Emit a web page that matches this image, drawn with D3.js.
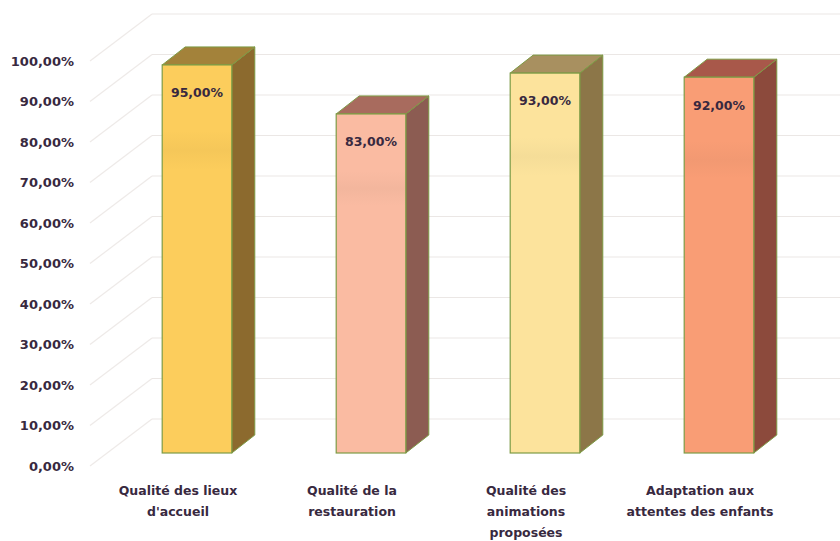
<!DOCTYPE html>
<html>
<head>
<meta charset="utf-8">
<script src="https://cdn.jsdelivr.net/npm/d3@7"></script>
<style>
  body { margin: 0; background: #fff; }
  text { font-family: "DejaVu Sans", sans-serif; font-weight: bold; fill: #38293f; }
</style>
</head>
<body>
<div id="main"></div>
<script>
const W = 840;
const H = 541;

// data
const categories = [
    ["Qualité des lieux", "d'accueil"],
    ["Qualité de la", "restauration"],
    ["Qualité des", "animations", "proposées"],
    ["Adaptation aux", "attentes des enfants"]
];
const values = [0.95, 0.83, 0.93, 0.92];
const ticks = [0, 0.1, 0.2, 0.3, 0.4, 0.5, 0.6, 0.7, 0.8, 0.9, 1.0];
const frontColors = ["#fccd5c", "#fabba2", "#fce39c", "#f99d75"];
const sideColors = ["#8c6a2e", "#8c5c52", "#8c7648", "#8c4a3c"];
const topColors = ["#a3823a", "#a86b5e", "#a89060", "#a8584a"];

const DX = 23, DY = -18; // bar depth

var ctx = {};

var fmt = function (v) {
    return d3.format(".2f")(v * 100).replace(".", ",") + "%";
};

var createViz = function () {
    var svg = d3.select("#main").append("svg")
        .attr("width", W)
        .attr("height", H);

    // three planes: front (axis labels), bars, back wall
    ctx.yFront = d3.scaleLinear().domain([0, 1]).range([466, 61]);
    ctx.yBar = d3.scaleLinear().domain([0, 1]).range([453, 44.5]);
    ctx.yBack = d3.scaleLinear().domain([0, 1]).range([419, 14]);
    ctx.x = d3.scaleBand()
        .domain(d3.range(categories.length))
        .range([110, 806])
        .paddingInner(0.6)
        .paddingOuter(0.3);

    drawGrid(svg);
    drawBars(svg);
    drawLabels(svg);
};

var drawGrid = function (svg) {
    var g = svg.append("g").attr("id", "grid");
    g.selectAll("line.back")
        .data(ticks)
        .enter()
        .append("line")
        .attr("class", "back")
        .attr("x1", 152).attr("x2", W)
        .attr("y1", d => ctx.yBack(d)).attr("y2", d => ctx.yBack(d))
        .attr("stroke", "#ebe7e5")
        .attr("stroke-width", 1.2);
    g.selectAll("line.diag")
        .data(ticks)
        .enter()
        .append("line")
        .attr("class", "diag")
        .attr("x1", 90).attr("x2", 152)
        .attr("y1", d => ctx.yFront(d)).attr("y2", d => ctx.yBack(d))
        .attr("stroke", "#eeeae8")
        .attr("stroke-width", 1.2);

    g.selectAll("text")
        .data(ticks)
        .enter()
        .append("text")
        .attr("x", 74)
        .attr("y", d => ctx.yFront(d))
        .attr("dy", "0.35em")
        .attr("text-anchor", "end")
        .style("font-size", "13px")
        .text(fmt);
};

var drawBars = function (svg) {
    var defs = svg.append("defs");
    // faint horizontal sheen on the front faces
    frontColors.forEach(function (c, i) {
        var grad = defs.append("linearGradient")
            .attr("id", "sheen" + i)
            .attr("x1", 0).attr("y1", 0).attr("x2", 0).attr("y2", 1);
        grad.append("stop").attr("offset", "0%").attr("stop-color", c);
        grad.append("stop").attr("offset", "17%").attr("stop-color", c);
        grad.append("stop").attr("offset", "22%").attr("stop-color", d3.color(c).darker(0.08));
        grad.append("stop").attr("offset", "27%").attr("stop-color", c);
        grad.append("stop").attr("offset", "100%").attr("stop-color", c);
    });

    var y0 = ctx.yBar(0);
    var bw = ctx.x.bandwidth();
    var bars = svg.append("g").attr("id", "bars")
        .selectAll("g")
        .data(values)
        .enter()
        .append("g");

    // side face
    bars.append("path")
        .attr("d", function (d, i) {
            var x1 = ctx.x(i) + bw, yt = ctx.yBar(d);
            return "M" + x1 + "," + yt + "L" + (x1 + DX) + "," + (yt + DY) +
                "L" + (x1 + DX) + "," + (y0 + DY) + "L" + x1 + "," + y0 + "Z";
        })
        .attr("fill", (d, i) => sideColors[i])
        .attr("stroke", "#7d9b45")
        .attr("stroke-width", 1)
        .attr("stroke-linejoin", "round");

    // top face
    bars.append("path")
        .attr("d", function (d, i) {
            var x0 = ctx.x(i), x1 = x0 + bw, yt = ctx.yBar(d);
            return "M" + x0 + "," + yt + "L" + (x0 + DX) + "," + (yt + DY) +
                "L" + (x1 + DX) + "," + (yt + DY) + "L" + x1 + "," + yt + "Z";
        })
        .attr("fill", (d, i) => topColors[i])
        .attr("stroke", "#7d9b45")
        .attr("stroke-width", 1)
        .attr("stroke-linejoin", "round");

    // front face
    bars.append("rect")
        .attr("x", (d, i) => ctx.x(i))
        .attr("y", d => ctx.yBar(d))
        .attr("width", bw)
        .attr("height", d => y0 - ctx.yBar(d))
        .attr("fill", (d, i) => "url(#sheen" + i + ")")
        .attr("stroke", "#7d9b45")
        .attr("stroke-width", 1.2);

    // value labels
    bars.append("text")
        .attr("x", (d, i) => ctx.x(i) + bw / 2)
        .attr("y", d => ctx.yBar(d) + 28)
        .attr("dy", "0.35em")
        .attr("text-anchor", "middle")
        .style("font-size", "12.5px")
        .text(fmt);
};

var drawLabels = function (svg) {
    var bw = ctx.x.bandwidth();
    var g = svg.append("g").attr("id", "xlabels");
    var lbl = g.selectAll("text")
        .data(categories)
        .enter()
        .append("text")
        .attr("x", (d, i) => ctx.x(i) + bw / 2 - 19)
        .attr("y", 491)
        .attr("text-anchor", "middle")
        .style("font-size", "12.5px");
    lbl.selectAll("tspan")
        .data(d => d)
        .enter()
        .append("tspan")
        .attr("x", function () { return d3.select(this.parentNode).attr("x"); })
        .attr("dy", (d, j) => j === 0 ? "0.35em" : "21px")
        .text(d => d);
};

createViz();
</script>
</body>
</html>
